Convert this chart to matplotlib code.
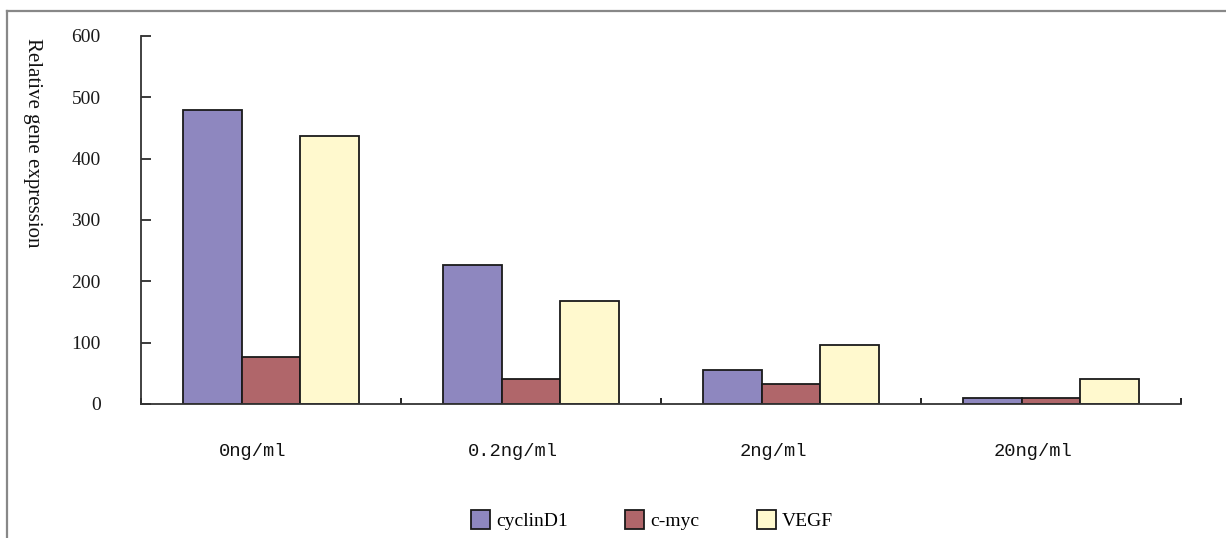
import numpy as np
import matplotlib
matplotlib.use('Agg')
import matplotlib.pyplot as plt
import matplotlib.transforms as mtransforms
from matplotlib.lines import Line2D

# concentrations and relative expression of each gene
doses = ['0ng/ml', '0.2ng/ml', '2ng/ml', '20ng/ml']
cyclin_d1 = [480, 226, 55, 10]
c_myc = [77, 40, 33, 10]
vegf = [437, 168, 97, 40]
genes = ['cyclinD1', 'c-myc', 'VEGF']
colors = ['#8E87BF', '#B0666A', '#FFF9CE']
y_ticks = [0, 100, 200, 300, 400, 500, 600]

fig = plt.figure(figsize=(12.26, 5.38), dpi=100)
ax = fig.add_axes([141 / 1226, 1 - 404 / 538, 1040 / 1226, 368 / 538])

x = np.arange(len(doses)) + 0.5
width = 0.2262
for i, (vals, col) in enumerate(zip([cyclin_d1, c_myc, vegf], colors)):
    ax.bar(x + (i - 1) * width, vals, width, color=col, edgecolor='#1a1a1a',
           linewidth=1.3, label=genes[i])

ax.set_xlim(0, len(doses))
ax.set_ylim(0, 600)
ax.set_yticks(y_ticks)
ax.set_yticklabels([str(t) for t in y_ticks], family='Liberation Serif', fontsize=14)
ax.set_xticks(np.arange(len(doses) + 1))
ax.set_xticklabels([])
ax.tick_params(axis='y', direction='in', length=7.5, width=1.2, pad=29, colors='#1a1a1a')
ax.tick_params(axis='x', direction='in', length=4.5, width=1.2)
for side in ['top', 'right']:
    ax.spines[side].set_visible(False)
for side in ['left', 'bottom']:
    ax.spines[side].set_linewidth(1.3)
    ax.spines[side].set_color('#333333')

# category labels sit below the axis, a little left of the group centres
shift = ax.transData + mtransforms.ScaledTranslation(-0.18, -0.48, fig.dpi_scale_trans)
for xi, lab in zip(x, doses):
    ax.text(xi, 0, lab, transform=shift, ha='center', va='center',
            family='Liberation Mono', fontsize=13.5, color='#111')

fig.text(32 / 1226, 1 - 38 / 538, 'Relative gene expression', rotation=270,
         ha='center', va='top', family='Liberation Serif', fontsize=15, color='#111')

fig.legend(loc='center', bbox_to_anchor=(652 / 1226, 1 - 520 / 538), ncol=3,
           frameon=False, prop={'family': 'Liberation Serif', 'size': 14},
           handlelength=0.98, handleheight=1.13, handletextpad=0.3,
           columnspacing=2.95)

# outer frame: top and left edges only
fig.add_artist(Line2D([7 / 1226, 1], [1 - 11 / 538, 1 - 11 / 538], color='#888888',
                      linewidth=1.6, transform=fig.transFigure))
fig.add_artist(Line2D([7 / 1226, 7 / 1226], [0, 1 - 11 / 538], color='#888888',
                      linewidth=1.6, transform=fig.transFigure))

fig.savefig('out.png', dpi=100)
